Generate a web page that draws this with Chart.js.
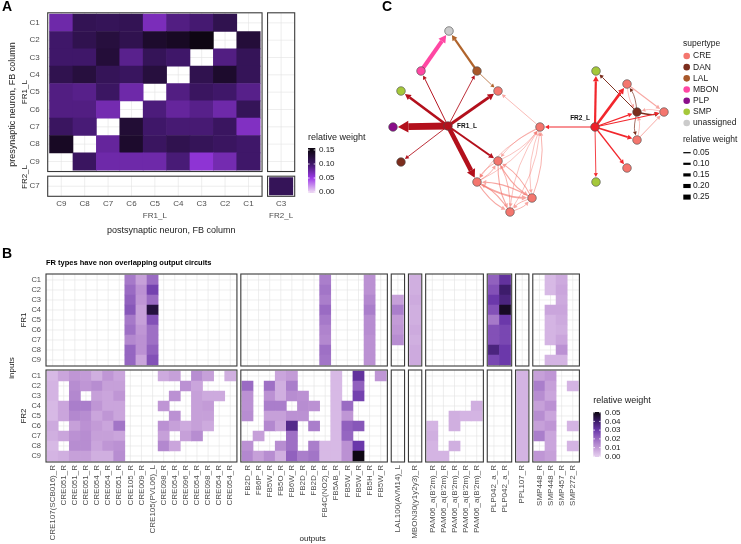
<!DOCTYPE html>
<html>
<head>
<meta charset="utf-8">
<script src="https://cdn.jsdelivr.net/npm/chart.js@4.4.1/dist/chart.umd.min.js"></script>
<style>
  html, body { margin: 0; padding: 0; background: #fff; }
  #wrap { position: relative; width: 741px; height: 544px; overflow: hidden; }
  #wrap canvas { position: absolute; left: 0; top: 0; }
</style>
</head>
<body>
<div id="wrap">
  <canvas id="chartA" width="741" height="544"></canvas>
  <canvas id="chartB" width="741" height="544"></canvas>
  <canvas id="chartC" width="741" height="544"></canvas>
</div>
<script>
const FONT = "'Liberation Sans', Arial, Helvetica, sans-serif";
const _ = null;

// ---------- A: FR1_L column-to-column weights ----------
const postColsA = ["C9", "C8", "C7", "C6", "C5", "C4", "C3", "C2", "C1"];
const preRowsA = ["C1", "C2", "C3", "C4", "C5", "C6", "C7", "C8", "C9"];
const fr1ToFr1 = [
  // C9    C8    C7    C6    C5    C4    C3    C2    C1
  [0.075, 0.112, 0.110, 0.112, 0.068, 0.090, 0.097, 0.115, _],     // C1
  [0.100, 0.115, 0.125, 0.115, 0.135, 0.140, 0.150, _, 0.128],     // C2
  [0.100, 0.100, 0.128, 0.086, 0.110, 0.100, _, 0.090, 0.110],     // C3
  [0.115, 0.125, 0.110, 0.106, 0.125, _, 0.115, 0.135, 0.110],     // C4
  [0.090, 0.087, 0.104, 0.075, _, 0.090, 0.105, 0.100, 0.087],     // C5
  [0.090, 0.090, 0.072, _, 0.093, 0.080, 0.087, 0.075, 0.110],     // C6
  [0.105, 0.095, _, 0.130, 0.100, 0.096, 0.096, 0.105, 0.065],     // C7
  [0.140, _, 0.080, 0.135, 0.105, 0.115, 0.110, 0.105, 0.100],     // C8
  [_, 0.105, 0.075, 0.075, 0.075, 0.095, 0.058, 0.072, 0.100]      // C9
];
const fr2PreA = "C7";
const fr2PostA = "C3";
const fr2ToFr2 = 0.11;
const legendTicksA = [0, 0.05, 0.10, 0.15];

// ---------- B: FR outputs ----------
const inputRows = ["C1", "C2", "C3", "C4", "C5", "C6", "C7", "C8", "C9"];
const outputGroups = [17, 13, 1, 1, 5, 2, 1, 4];
const outputs = [
  "CRE107(SCB016)_R", "CRE051_R", "CRE051_R", "CRE051_R", "CRE054_R", "CRE054_R", "CRE051_R", "CRE105_R",
  "CRE009_R", "CRE105(PVL06)_L", "CRE098_R", "CRE054_R", "CRE096_R", "CRE054_R", "CRE098_R", "CRE054_R", "CRE054_R",
  "FB2D_R", "FB6P_R", "FB5W_R", "FB5O_R", "FB6W_R", "FB2D_R", "FB2D_R", "FB4C(NO2)_R", "FB5AB_R", "FB5W_R",
  "FB5W_R", "FB5H_R", "FB5W_R",
  "LAL100(AVM14)_L",
  "MBON30(y1y2y3)_R",
  "PAM06_a(B'2m)_R", "PAM06_a(B'2m)_R", "PAM06_a(B'2m)_R", "PAM06_a(B'2m)_R", "PAM06_a(B'2m)_R",
  "PLP042_a_R", "PLP042_a_R",
  "PPL107_R",
  "SMP448_R", "SMP448_R", "SMP457_R", "SMP272_R"
];
// rows C1..C9, groups: CRE(17) FB(13) LAL MBON PAM(5) PLP(2) PPL SMP(4)
const fr1Out = [
  [_,_,_,_,_,_,_,.017,.009,.020,_,_,_,_,_,_,_,  _,_,_,_,_,_,_,.016,_,_,_,.012,_,  _, .006,  _,_,_,_,_,  .022,.032,  _,  _,.004,.007,_],
  [_,_,_,_,_,_,_,.020,.012,.028,_,_,_,_,_,_,_,  _,_,_,_,_,_,_,.018,_,_,_,.012,_,  _, .006,  _,_,_,_,_,  .025,.040,  _,  _,.004,.008,_],
  [_,_,_,_,_,_,_,.022,.011,.020,_,_,_,_,_,_,_,  _,_,_,_,_,_,_,.016,_,_,_,.014,_,  .009, .007,  _,_,_,_,_,  .030,.037,  _,  _,_,.007,_],
  [_,_,_,_,_,_,_,.024,.009,.045,_,_,_,_,_,_,_,  _,_,_,_,_,_,_,.020,_,_,_,.016,_,  .016, .006,  _,_,_,_,_,  .025,.048,  _,  _,.008,.008,_],
  [_,_,_,_,_,_,_,.017,.009,.025,_,_,_,_,_,_,_,  _,_,_,_,_,_,_,.017,_,_,_,.013,_,  .010, .006,  _,_,_,_,_,  .017,.030,  _,  _,.005,.007,_],
  [_,_,_,_,_,_,_,.019,.011,.019,_,_,_,_,_,_,_,  _,_,_,_,_,_,_,.015,_,_,_,.013,_,  .011, .007,  _,_,_,_,_,  .025,.027,  _,  _,.005,.006,_],
  [_,_,_,_,_,_,_,.014,.012,.019,_,_,_,_,_,_,_,  _,_,_,_,_,_,_,.014,_,_,_,.012,_,  .013, .006,  _,_,_,_,_,  .025,.027,  _,  _,.005,.008,_],
  [_,_,_,_,_,_,_,.021,.012,.022,_,_,_,_,_,_,_,  _,_,_,_,_,_,_,.019,_,_,_,.012,_,  _, .007,  _,_,_,_,_,  .037,.030,  _,  _,_,.012,_],
  [_,_,_,_,_,_,_,.021,.008,.025,_,_,_,_,_,_,_,  _,_,_,_,_,_,_,.018,_,_,_,.012,_,  _, .007,  _,_,_,_,_,  .027,.030,  _,  _,.005,.005,_]
];
const fr2Out = [
  [.004,.008,.011,.010,.006,.011,.008,_,_,_,.007,.009,_,.013,.009,_,.006,  _,_,_,.008,.010,_,_,_,.004,_,.032,_,.011,  _, _,  _,_,_,_,_,  _,_,  .005,  .009,.011,_,_],
  [.005,_,.013,.011,.013,.009,.009,_,_,_,_,_,.012,.008,_,_,_,  .020,_,.019,.006,.016,_,_,_,.004,_,.022,_,_,  _, _,  _,_,_,_,_,  _,_,  .005,  .016,.009,_,.005],
  [.005,_,.014,_,.009,.008,.011,_,_,_,_,.012,_,.009,.007,.007,_,  .012,_,.012,.006,.013,.012,_,_,.004,_,.028,_,_,  _, _,  _,_,_,_,_,  _,_,  .005,  .013,.008,_,_],
  [.004,.008,.016,.016,.011,.008,.008,_,_,_,.011,_,_,.009,.010,_,_,  .012,_,.016,.016,_,.013,.012,_,.004,.020,_,_,_,  _, _,  _,_,_,_,.006,  _,_,  .005,  .009,.012,_,_],
  [.004,.008,.014,.013,.008,.011,.008,_,_,_,_,.012,_,.009,.009,_,_,  .013,_,.009,.009,.012,.012,_,_,.004,.011,_,_,_,  _, _,  _,_,.006,.005,.005,  _,_,  .005,  .013,.008,_,_],
  [.007,_,.009,.012,.010,.008,.018,_,_,_,.012,.009,.007,.009,.007,_,_,  _,_,.014,.008,.035,_,.016,_,.004,.022,.024,_,_,  _, _,  .005,_,.006,_,_,  _,_,  .005,  .009,.011,_,.005],
  [.006,.008,.012,.013,.009,.009,.008,_,_,_,.009,_,.009,.013,_,_,_,  _,.009,_,_,.019,_,_,_,.004,.021,_,_,_,  _, _,  .006,_,_,_,_,  _,_,  .005,  .016,.008,_,_],
  [.004,_,.013,.013,.008,.011,.012,_,_,_,.014,.008,_,_,_,_,_,  .012,_,_,.013,.019,_,.016,.004,.004,.012,.030,_,_,  _, _,  .005,_,.006,_,_,  _,_,  .005,  _,.008,_,.005],
  [.005,.006,.009,.009,.006,.006,.013,_,_,_,_,_,_,_,_,_,_,  .014,.009,.013,.006,.022,.016,.018,.004,.004,.012,.050,_,_,  _, _,  .005,.005,_,_,_,  _,_,  .005,  .011,.009,_,_]
];
const legendTicksB = [0, 0.01, 0.02, 0.03, 0.04, 0.05];

// ---------- C: network ----------
const nodeName = ["FR1_L", "FR2_L", "", "", "", "", "", "", "", "", "", "", "", "", "", "", "", "", "", "", ""];
const nodeType = ["FR1", "FR2", "unassigned", "MBON", "LAL", "SMP", "CRE", "PLP", "CRE", "DAN", "CRE",
                  "CRE", "CRE", "CRE", "SMP", "CRE", "DAN", "CRE", "CRE", "CRE", "SMP"];
const nodeX = [6.3, 21.0, 6.4, 3.6, 9.2, 1.6, 11.3, 0.8, 15.5, 1.6, 11.3, 9.2, 14.7, 12.5, 21.1, 24.2, 25.2, 27.9, 25.2, 24.2, 21.1];
const nodeY = [9.4, 9.3, 18.9, 14.9, 14.9, 12.9, 12.9, 9.3, 9.3, 5.8, 5.9, 3.8, 2.2, 0.8, 14.9, 13.6, 10.8, 10.8, 8.0, 5.2, 3.8];
const edgeFrom = [8, 10, 8, 11, 8, 12, 8, 13, 10, 11, 10, 12, 10, 13, 11, 12, 11, 13, 12, 13, 8,
                  15, 18, 15, 18, 17, 16, 16, 16, 16,
                  1, 1, 1, 1, 1, 1, 1, 1,
                  4, 4, 3,
                  0, 0, 0, 0, 0, 0, 0, 0];
const edgeTo   = [10, 8, 11, 8, 12, 8, 13, 8, 11, 10, 12, 10, 13, 10, 12, 11, 13, 11, 13, 12, 6,
                  17, 17, 16, 16, 16, 14, 17, 15, 18,
                  8, 14, 15, 16, 17, 18, 19, 20,
                  2, 6, 2,
                  3, 4, 9, 10, 5, 6, 11, 7];
const edgeWeight = [0.02, 0.02, 0.02, 0.02, 0.02, 0.03, 0.02, 0.02, 0.03, 0.03, 0.05, 0.04, 0.04, 0.03, 0.09, 0.05, 0.05, 0.04, 0.03, 0.03, 0.025,
                    0.04, 0.035, 0.02, 0.02, 0.02, 0.035, 0.06, 0.02, 0.02,
                    0.04, 0.10, 0.12, 0.05, 0.04, 0.07, 0.055, 0.03,
                    0.10, 0.025, 0.20,
                    0.035, 0.03, 0.03, 0.09, 0.125, 0.14, 0.23, 0.34];
const supertypes = ["CRE", "DAN", "LAL", "MBON", "PLP", "SMP", "unassigned"];
const widthBreaks = [0.05, 0.10, 0.15, 0.20, 0.25];

// ---------- styles ----------
const nodeColor = {
  FR1: "#b3101c", FR2: "#ee1f28", CRE: "#f4766e", DAN: "#7b2d1d", LAL: "#a8582a",
  MBON: "#ff47a3", PLP: "#8a0e8a", SMP: "#a5c83a", unassigned: "#cbcbcb"
};
const edgeColor = {
  FR1: "#b3101c", FR2: "#f2262c", CRE: "rgba(242,112,104,0.62)", DAN: "#7b2d1d",
  LAL: "#b0642c", MBON: "#ff47a3"
};

function makeScale(stops) {
  const rgb = stops.map(([v, h]) => [v, parseInt(h.slice(1, 3), 16), parseInt(h.slice(3, 5), 16), parseInt(h.slice(5, 7), 16)]);
  const fmt = c => `rgb(${Math.round(c[0])},${Math.round(c[1])},${Math.round(c[2])})`;
  return v => {
    if (v <= rgb[0][0]) return fmt(rgb[0].slice(1));
    for (let i = 1; i < rgb.length; i++) {
      if (v <= rgb[i][0]) {
        const a = rgb[i - 1], b = rgb[i], t = (v - a[0]) / (b[0] - a[0]);
        return fmt([1, 2, 3].map(k => a[k] + (b[k] - a[k]) * t));
      }
    }
    return fmt(rgb[rgb.length - 1].slice(1));
  };
}
const colorA = makeScale([[0, "#ecd5f3"], [0.05, "#9d3ae8"], [0.10, "#3f1769"], [0.15, "#0e0613"]]);
const colorB = makeScale([[0, "#e4cdee"], [0.01, "#c39bd7"], [0.02, "#9a6bc3"], [0.03, "#6b38aa"], [0.04, "#3d1c6b"], [0.05, "#0d0612"]]);

function vtext(ctx, str, x, y) {
  ctx.save();
  ctx.translate(x, y);
  ctx.rotate(-Math.PI / 2);
  ctx.textAlign = "center";
  ctx.textBaseline = "middle";
  ctx.fillText(str, 0, 0);
  ctx.restore();
}

function panelLetter(ctx, s, x, y) {
  ctx.save();
  ctx.fillStyle = "#000";
  ctx.font = `bold 14px ${FONT}`;
  ctx.textAlign = "left";
  ctx.textBaseline = "middle";
  ctx.fillText(s, x, y);
  ctx.restore();
}

// colour bar legend: y0 = pixel of first tick, y1 = pixel of last tick
function colorbar(ctx, o) {
  const t0 = o.ticks[0], t1 = o.ticks[o.ticks.length - 1];
  const pyOf = v => o.y0 + (v - t0) / (t1 - t0) * (o.y1 - o.y0);
  const vOf = py => t0 + (o.y0 - py) / (o.y0 - o.y1) * (t1 - t0);
  ctx.save();
  const g = ctx.createLinearGradient(0, o.bottom, 0, o.top);
  for (let k = 0; k <= 24; k++) {
    const py = o.bottom - (o.bottom - o.top) * k / 24;
    g.addColorStop(k / 24, o.fn(Math.max(t0, vOf(py))));
  }
  ctx.fillStyle = g;
  ctx.fillRect(o.x, o.top, o.w, o.bottom - o.top);
  ctx.strokeStyle = "#fff";
  ctx.lineWidth = 0.8;
  ctx.beginPath();
  for (const t of o.ticks) {
    const py = pyOf(t);
    ctx.moveTo(o.x, py); ctx.lineTo(o.x + o.w * 0.22, py);
    ctx.moveTo(o.x + o.w, py); ctx.lineTo(o.x + o.w * 0.78, py);
  }
  ctx.stroke();
  ctx.fillStyle = "#1a1a1a";
  ctx.font = `8px ${FONT}`;
  ctx.textAlign = "left";
  ctx.textBaseline = "middle";
  for (const t of o.ticks) ctx.fillText(t.toFixed(2), o.labelX, pyOf(t));
  ctx.font = `9px ${FONT}`;
  ctx.fillText("relative weight", o.x, o.titleY);
  ctx.restore();
}

// grid inside each facet (under the tiles) and the facet border on top
function facetPlugin(facets, extra) {
  return {
    id: "facets",
    beforeDatasetsDraw(chart) {
      const { ctx, scales: { x, y } } = chart;
      ctx.save();
      ctx.strokeStyle = "#e2e2e2";
      ctx.lineWidth = 0.6;
      ctx.beginPath();
      for (const f of facets) {
        const l = x.getPixelForValue(f.x0), r = x.getPixelForValue(f.x1);
        const t = Math.min(y.getPixelForValue(f.y0), y.getPixelForValue(f.y1));
        const b = Math.max(y.getPixelForValue(f.y0), y.getPixelForValue(f.y1));
        for (const tk of x.ticks) {
          if (tk.value > f.x0 && tk.value < f.x1) {
            const px = x.getPixelForValue(tk.value);
            ctx.moveTo(px, t); ctx.lineTo(px, b);
          }
        }
        for (const tk of y.ticks) {
          if (tk.value > f.y0 && tk.value < f.y1) {
            const py = y.getPixelForValue(tk.value);
            ctx.moveTo(l, py); ctx.lineTo(r, py);
          }
        }
      }
      ctx.stroke();
      ctx.restore();
    },
    afterDatasetsDraw(chart) {
      const { ctx, scales: { x, y } } = chart;
      ctx.save();
      ctx.strokeStyle = "#3a3a3a";
      ctx.lineWidth = 1.1;
      for (const f of facets) {
        const l = x.getPixelForValue(f.x0), r = x.getPixelForValue(f.x1);
        const t = Math.min(y.getPixelForValue(f.y0), y.getPixelForValue(f.y1));
        const b = Math.max(y.getPixelForValue(f.y0), y.getPixelForValue(f.y1));
        ctx.strokeRect(l, t, r - l, b - t);
      }
      ctx.restore();
    },
    afterDraw(chart) { extra(chart); }
  };
}

// ================= chart A =================
const PAD_A = 0.08;
const xFr2A = 9.395, yFr2A = 9.43;
const xTicksA = postColsA.map((c, i) => i).concat([xFr2A]);
const yTicksA = preRowsA.map((r, i) => i).concat([yFr2A]);
const xLabelsA = postColsA.map((c, i) => (i === 4 ? [c, "FR1_L"] : c)).concat([[fr2PostA, "FR2_L"]]);
const yLabelsA = preRowsA.concat([fr2PreA]);

const cellsA = [];
preRowsA.forEach((r, i) => postColsA.forEach((c, j) => {
  const v = fr1ToFr1[i][j];
  if (v !== null) cellsA.push({ x: j, y: [i - 0.5, i + 0.5], v });
}));
cellsA.push({ x: xFr2A, y: [yFr2A - 0.5, yFr2A + 0.5], v: fr2ToFr2 });

const lo = -0.5 - PAD_A, hi = 8.5 + PAD_A;
const facetsA = [
  { x0: lo, x1: hi, y0: lo, y1: hi },
  { x0: xFr2A - 0.5 - PAD_A, x1: xFr2A + 0.5 + PAD_A, y0: lo, y1: hi },
  { x0: lo, x1: hi, y0: yFr2A - 0.5 - PAD_A, y1: yFr2A + 0.5 + PAD_A },
  { x0: xFr2A - 0.5 - PAD_A, x1: xFr2A + 0.5 + PAD_A, y0: yFr2A - 0.5 - PAD_A, y1: yFr2A + 0.5 + PAD_A }
];

new Chart(document.getElementById("chartA"), {
  type: "bar",
  data: {
    datasets: [{
      data: cellsA,
      backgroundColor: c => colorA(c.raw.v),
      borderWidth: 0,
      barPercentage: 1,
      categoryPercentage: 1
    }]
  },
  options: {
    responsive: false,
    animation: false,
    devicePixelRatio: 1,
    events: [],
    layout: { padding: { left: 3.7, right: 446.3, top: 11.9, bottom: 307.7 } },
    plugins: { legend: { display: false }, tooltip: { enabled: false } },
    scales: {
      x: {
        type: "linear",
        min: lo,
        max: xFr2A + 0.5 + PAD_A,
        offset: false,
        grid: { display: false, drawTicks: false, offset: false },
        border: { display: false },
        afterBuildTicks: a => { a.ticks = xTicksA.map(v => ({ value: v })); },
        afterFit: s => { s.height = 40; },
        ticks: {
          autoSkip: false, maxRotation: 0, minRotation: 0, padding: 1.7,
          color: "#4d4d4d", font: { family: FONT, size: 8, lineHeight: 1.5 },
          callback: (v, i) => xLabelsA[i]
        },
        title: {
          display: true, text: "postsynaptic neuron, FB column", color: "#1a1a1a",
          font: { family: FONT, size: 9 }, padding: { top: 0, bottom: 0.3 }
        }
      },
      y: {
        type: "linear",
        reverse: true,
        min: lo,
        max: yFr2A + 0.5 + PAD_A,
        grid: { display: false, drawTicks: false },
        border: { display: false },
        afterBuildTicks: a => { a.ticks = yTicksA.map(v => ({ value: v })); },
        afterFit: s => { s.width = 44; },
        ticks: {
          autoSkip: false, padding: 8, color: "#4d4d4d", font: { family: FONT, size: 8 },
          callback: (v, i) => yLabelsA[i]
        },
        title: {
          display: true, text: "presynaptic neuron, FB column", color: "#1a1a1a",
          font: { family: FONT, size: 9 }, padding: { top: 3.4, bottom: 0 }
        }
      }
    }
  },
  plugins: [facetPlugin(facetsA, chart => {
    const { ctx, scales: { y } } = chart;
    panelLetter(ctx, "A", 2, 7);
    ctx.save();
    ctx.fillStyle = "#1a1a1a";
    ctx.font = `8px ${FONT}`;
    vtext(ctx, "FR1_L", 24.5, y.getPixelForValue(4));
    vtext(ctx, "FR2_L", 24.5, 177);
    ctx.restore();
    colorbar(ctx, { fn: colorA, ticks: legendTicksA, x: 308, w: 7.3, top: 148, bottom: 193, y0: 192, y1: 150, labelX: 319, titleY: 138 });
  })]
});

// ================= chart B =================
const PAD_B = 0.1, GAP_B = 0.35;
const xPosB = [];
const facetColsB = [];
let runB = 0;
outputGroups.forEach(n => {
  for (let j = 0; j < n; j++) xPosB.push(runB + PAD_B + 0.5 + j);
  facetColsB.push([runB, runB + n + 2 * PAD_B]);
  runB += n + 2 * PAD_B + GAP_B;
});
const xMaxB = runB - GAP_B;
const yFr1B = inputRows.map((r, i) => PAD_B + 0.5 + i);
const fr2TopB = 9 + 2 * PAD_B + 0.4;
const yFr2B = inputRows.map((r, i) => fr2TopB + PAD_B + 0.5 + i);
const yMaxB = fr2TopB + 9 + 2 * PAD_B;
const yTicksB = yFr1B.concat(yFr2B);

const cellsB = [];
inputRows.forEach((r, i) => {
  xPosB.forEach((xp, j) => {
    const a = fr1Out[i][j];
    if (a !== null) cellsB.push({ x: xp, y: [yFr1B[i] - 0.5, yFr1B[i] + 0.5], v: a });
    const b = fr2Out[i][j];
    if (b !== null) cellsB.push({ x: xp, y: [yFr2B[i] - 0.5, yFr2B[i] + 0.5], v: b });
  });
});
const facetsB = [];
facetColsB.forEach(([x0, x1]) => {
  facetsB.push({ x0, x1, y0: 0, y1: 9 + 2 * PAD_B });
  facetsB.push({ x0, x1, y0: fr2TopB, y1: yMaxB });
});

new Chart(document.getElementById("chartB"), {
  type: "bar",
  data: {
    datasets: [{
      data: cellsB,
      backgroundColor: c => colorB(c.raw.v),
      borderWidth: 0,
      barPercentage: 1,
      categoryPercentage: 1
    }]
  },
  options: {
    responsive: false,
    animation: false,
    devicePixelRatio: 1,
    events: [],
    layout: { padding: { left: 2, right: 741 - 579.4, top: 258.9, bottom: 0 } },
    plugins: {
      legend: { display: false },
      tooltip: { enabled: false },
      title: {
        display: true, text: "FR types have non overlapping output circuits",
        align: "start", fullSize: false, color: "#000",
        font: { family: FONT, size: 7.5, weight: "bold" }, padding: { top: 0, bottom: 6.1 }
      }
    },
    scales: {
      x: {
        type: "linear",
        min: 0,
        max: xMaxB,
        offset: false,
        grid: { display: false, drawTicks: false, offset: false },
        border: { display: false },
        afterBuildTicks: a => { a.ticks = xPosB.map(v => ({ value: v })); },
        afterFit: s => { s.height = 82; },
        ticks: {
          autoSkip: false, maxRotation: 90, minRotation: 90, padding: 3,
          color: "#4d4d4d", font: { family: FONT, size: 8 },
          callback: (v, i) => outputs[i]
        },
        title: {
          display: true, text: "outputs", color: "#1a1a1a",
          font: { family: FONT, size: 8 }, padding: { top: 0, bottom: 0 }
        }
      },
      y: {
        type: "linear",
        reverse: true,
        min: 0,
        max: yMaxB,
        grid: { display: false, drawTicks: false },
        border: { display: false },
        afterBuildTicks: a => { a.ticks = yTicksB.map(v => ({ value: v })); },
        afterFit: s => { s.width = 44; },
        ticks: {
          autoSkip: false, padding: 5, color: "#4d4d4d", font: { family: FONT, size: 7.5 },
          callback: (v, i) => inputRows[i % 9]
        },
        title: {
          display: true, text: "inputs", color: "#1a1a1a",
          font: { family: FONT, size: 8 }, padding: { top: 5.2, bottom: 0 }
        }
      }
    }
  },
  plugins: [facetPlugin(facetsB, chart => {
    const { ctx, scales: { y } } = chart;
    panelLetter(ctx, "B", 2, 254.5);
    ctx.save();
    ctx.fillStyle = "#1a1a1a";
    ctx.font = `8px ${FONT}`;
    vtext(ctx, "FR1", 23.5, y.getPixelForValue(yFr1B[4]));
    vtext(ctx, "FR2", 23.5, y.getPixelForValue(yFr2B[4]));
    ctx.restore();
    colorbar(ctx, { fn: colorB, ticks: legendTicksB, x: 593.3, w: 7.4, top: 412, bottom: 457, y0: 456.3, y1: 412.7, labelX: 605, titleY: 401 });
  })]
});

// ================= chart C =================
const widthOf = w => 0.3 + 19 * w;
const NODE_R = 4.3;

function drawEdge(ctx, x1, y1, x2, y2, lw, color, bend) {
  const dx = x2 - x1, dy = y2 - y1, len = Math.hypot(dx, dy);
  const nx = -dy / len, ny = dx / len;
  const cx = (x1 + x2) / 2 + nx * bend * len, cy = (y1 + y2) / 2 + ny * bend * len;
  let tx = x2 - cx, ty = y2 - cy;
  const tl = Math.hypot(tx, ty);
  tx /= tl; ty /= tl;
  const ex = x2 - tx * (NODE_R + 0.6), ey = y2 - ty * (NODE_R + 0.6);
  const head = 3 + 1.1 * lw, hw = 1.5 + 0.65 * lw;
  const bx = ex - tx * head, by = ey - ty * head;
  ctx.strokeStyle = color;
  ctx.fillStyle = color;
  ctx.lineWidth = lw;
  ctx.lineCap = "butt";
  ctx.beginPath();
  ctx.moveTo(x1, y1);
  if (bend) ctx.quadraticCurveTo(cx, cy, bx, by); else ctx.lineTo(bx, by);
  ctx.stroke();
  ctx.beginPath();
  ctx.moveTo(ex, ey);
  ctx.lineTo(bx - ty * hw, by + tx * hw);
  ctx.lineTo(bx + ty * hw, by - tx * hw);
  ctx.closePath();
  ctx.fill();
}

const edgePlugin = {
  id: "edges",
  beforeDatasetsDraw(chart) {
    const { ctx, scales: { x, y } } = chart;
    ctx.save();
    edgeFrom.forEach((a, k) => {
      const b = edgeTo[k];
      const twoWay = edgeFrom.some((f, m) => f === b && edgeTo[m] === a);
      drawEdge(ctx,
        x.getPixelForValue(nodeX[a]), y.getPixelForValue(nodeY[a]),
        x.getPixelForValue(nodeX[b]), y.getPixelForValue(nodeY[b]),
        widthOf(edgeWeight[k]), edgeColor[nodeType[a]], twoWay ? 0.13 : 0);
    });
    ctx.restore();
  },
  afterDatasetsDraw(chart) {
    const { ctx, scales: { x, y } } = chart;
    ctx.save();
    ctx.fillStyle = "#111";
    ctx.font = `bold 6.5px ${FONT}`;
    ctx.textBaseline = "middle";
    ctx.textAlign = "left";
    ctx.fillText(nodeName[0], x.getPixelForValue(nodeX[0]) + 9, y.getPixelForValue(nodeY[0]) + 0.5);
    ctx.textAlign = "right";
    ctx.fillText(nodeName[1], x.getPixelForValue(nodeX[1]) - 5, y.getPixelForValue(nodeY[1]) - 8.5);
    ctx.restore();
  },
  afterDraw(chart) {
    const ctx = chart.ctx;
    panelLetter(ctx, "C", 382, 7.2);
    ctx.save();
    ctx.fillStyle = "#1a1a1a";
    ctx.textAlign = "left";
    ctx.textBaseline = "middle";
    ctx.font = `8.5px ${FONT}`;
    ctx.fillText("supertype", 683, 44);
    supertypes.forEach((s, i) => {
      const yy = 56 + i * 11.17;
      ctx.fillStyle = nodeColor[s];
      ctx.beginPath();
      ctx.arc(686.7, yy, 3.3, 0, Math.PI * 2);
      ctx.fill();
      ctx.fillStyle = "#1a1a1a";
      ctx.fillText(s, 693, yy);
    });
    ctx.fillText("relative weight", 683, 140);
    widthBreaks.forEach((w, i) => {
      const yy = 152.7 + i * 11.1;
      ctx.strokeStyle = "#000";
      ctx.lineWidth = widthOf(w);
      ctx.beginPath();
      ctx.moveTo(683.3, yy);
      ctx.lineTo(690.7, yy);
      ctx.stroke();
      ctx.fillText(w.toFixed(2), 693, yy);
    });
    ctx.restore();
  }
};

const nodeTypesC = ["CRE", "DAN", "LAL", "MBON", "PLP", "SMP", "unassigned", "FR1", "FR2"];
new Chart(document.getElementById("chartC"), {
  type: "scatter",
  data: {
    datasets: nodeTypesC.map(t => ({
      label: t,
      data: nodeX.map((v, i) => ({ x: v, y: nodeY[i], t: nodeType[i] })).filter(p => p.t === t),
      pointRadius: NODE_R,
      pointBackgroundColor: nodeColor[t],
      pointBorderColor: "#4a4a4a",
      pointBorderWidth: 0.6
    }))
  },
  options: {
    responsive: false,
    animation: false,
    devicePixelRatio: 1,
    events: [],
    layout: { padding: { left: 385, right: 66, top: 20, bottom: 324 } },
    plugins: { legend: { display: false }, tooltip: { enabled: false } },
    scales: {
      x: { type: "linear", min: 0, max: 29, display: false },
      y: { type: "linear", min: 0, max: 20, display: false }
    }
  },
  plugins: [edgePlugin]
});
</script>
</body>
</html>
